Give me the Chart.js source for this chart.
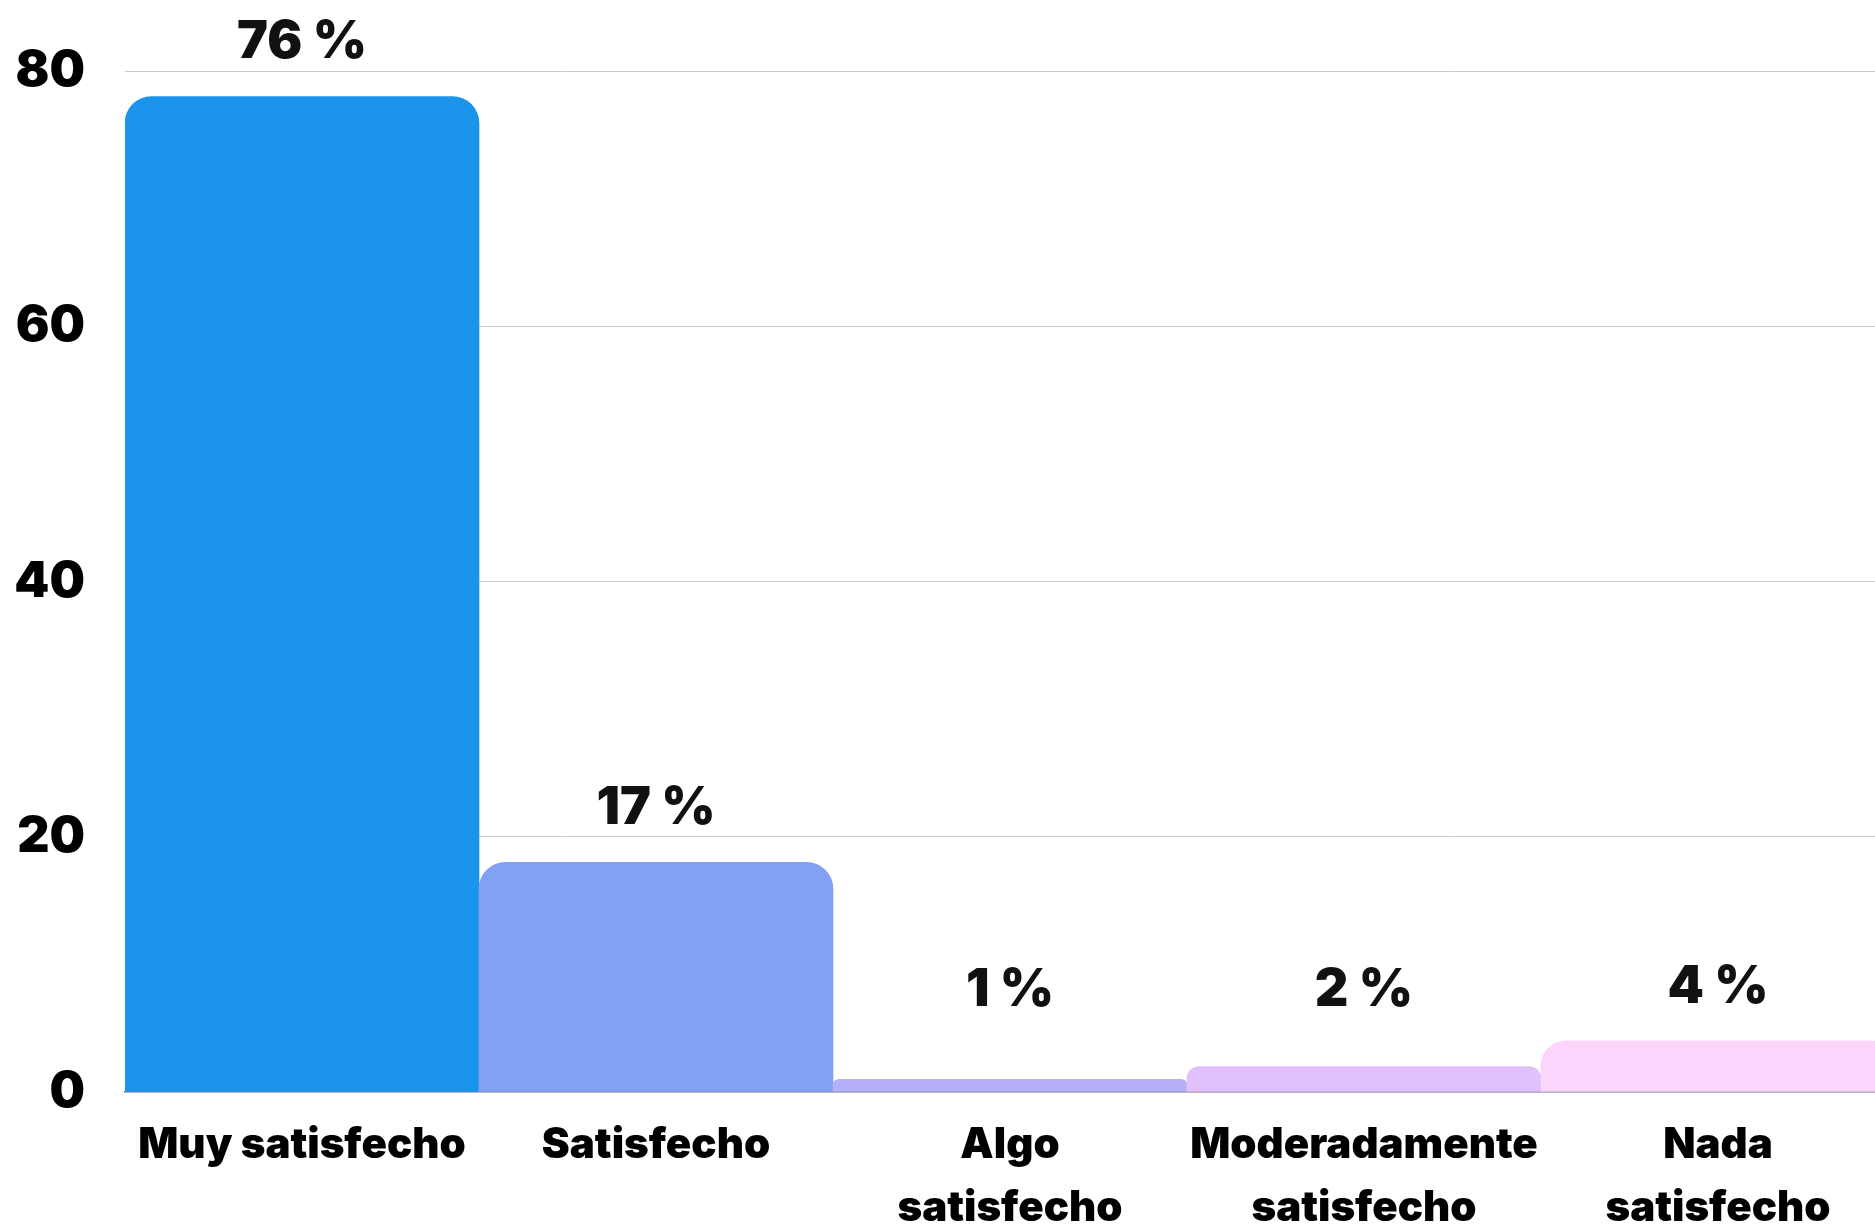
<!DOCTYPE html>
<html>
<head>
<meta charset="utf-8">
<script src="https://cdn.jsdelivr.net/npm/chart.js@4/dist/chart.umd.min.js"></script>
<style>
	html, body { margin: 0; padding: 0; background: #fff; overflow: hidden; }
	#wrap { position: absolute; left: 0; top: 0; width: 1895px; height: 1262px; }
</style>
</head>
<body>
<div id="wrap"><canvas id="satisfaccionChart"></canvas></div>
<script>
// Datos del gráfico
const categorias = [
	['Muy satisfecho'],
	['Satisfecho'],
	['Algo', 'satisfecho'],
	['Moderadamente', 'satisfecho'],
	['Nada', 'satisfecho'],
]
const valores = [78, 18, 1, 2, 4]
const etiquetas = ['76 %', '17 %', '1 %', '2 %', '4 %']
const colores = ['#1b95eb', '#82a1f5', '#b5b0f8', '#e1c1fb', '#fcd5fd']
const ticksY = { min: 0, max: 80, step: 20 }

const FUENTE = 'Inter, "Open Sans", sans-serif'

// Etiquetas de porcentaje encima de las barras
const etiquetasPlugin = {
	id: 'etiquetasPorcentaje',
	afterDatasetsDraw(chart) {
		const ctx = chart.ctx
		const meta = chart.getDatasetMeta(0)
		const yScale = chart.scales.y
		const limite = yScale.getPixelForValue(8)
		ctx.save()
		ctx.font = '900 52px ' + FUENTE
		ctx.fillStyle = '#111'
		ctx.textAlign = 'center'
		ctx.textBaseline = 'middle'
		meta.data.forEach((bar, i) => {
			const y = Math.min(bar.y - 54, limite)
			ctx.fillText(etiquetas[i], bar.x, y)
		})
		ctx.restore()
	},
}

const satisfaccionChart = new Chart(
	document.getElementById('satisfaccionChart').getContext('2d'),
	{
		type: 'bar',
		data: {
			labels: categorias,
			datasets: [
				{
					data: valores,
					backgroundColor: colores,
					borderRadius: { topLeft: 27, topRight: 27 },
					borderSkipped: 'start',
					barPercentage: 1,
					categoryPercentage: 1,
				},
			],
		},
		options: {
			responsive: true,
			maintainAspectRatio: false,
			animation: false,
			layout: { padding: { top: 71, left: 0, right: 0, bottom: 0 } },
			scales: {
				y: {
					min: ticksY.min,
					max: ticksY.max,
					border: { display: false },
					grid: {
						drawTicks: false,
						color: ctx => (ctx.tick.value === 0 ? 'rgba(0,0,0,0)' : '#cbcbcb'),
						lineWidth: 1,
					},
					ticks: {
						stepSize: ticksY.step,
						padding: 40,
						color: '#000',
						font: { family: FUENTE, size: 50, weight: '900' },
					},
					afterFit: scale => {
						scale.width = 125
					},
				},
				x: {
					z: 1,
					border: { display: true, color: '#73738a', width: 1.5 },
					grid: { display: false, drawTicks: false },
					ticks: {
						padding: 22,
						maxRotation: 0,
						autoSkip: false,
						color: '#000',
						font: { family: FUENTE, size: 42, weight: '900', lineHeight: 1.5 },
					},
				},
			},
			plugins: {
				legend: { display: false },
				tooltip: { enabled: false },
			},
		},
		plugins: [etiquetasPlugin],
	}
)
</script>
</body>
</html>
